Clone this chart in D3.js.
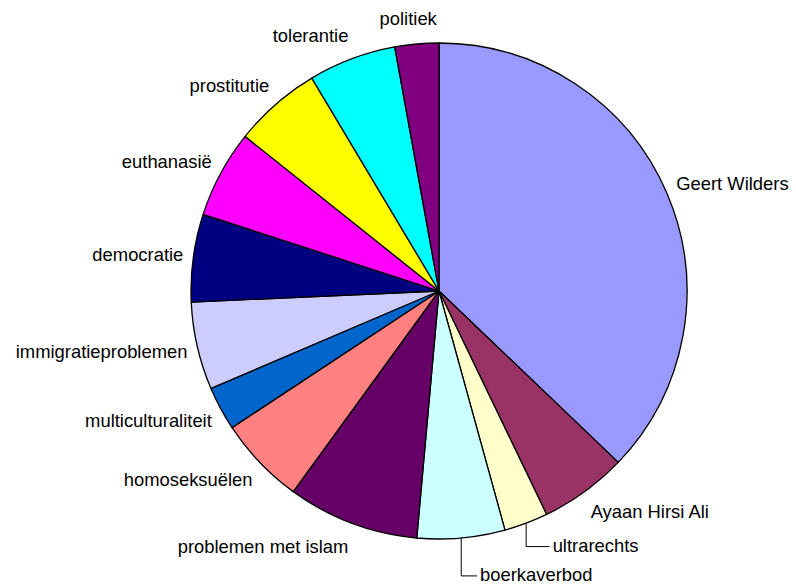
<!DOCTYPE html>
<html>
<head>
<meta charset="utf-8">
<script src="https://cdn.jsdelivr.net/npm/d3@7"></script>
<style>
  html, body { margin: 0; padding: 0; background: #fff; }
  svg { display: block; }
  text { font-family: "Liberation Sans", Arial, sans-serif; font-size: 18.4px; fill: #000; }
</style>
</head>
<body>
<svg id="chart" width="796" height="584"></svg>
<script>
const categories = ["Geert Wilders", "Ayaan Hirsi Ali", "ultrarechts", "boerkaverbod",
  "problemen met islam", "homoseksuëlen", "multiculturaliteit", "immigratieproblemen",
  "democratie", "euthanasië", "prostitutie", "tolerantie", "politiek"];
const values = [13, 2, 1, 2, 3, 2, 1, 2, 2, 2, 2, 2, 1];
const colors = ["#9999FF", "#993366", "#FFFFCC", "#CCFFFF", "#660066", "#FF8080",
  "#0066CC", "#CCCCFF", "#000080", "#FF00FF", "#FFFF00", "#00FFFF", "#800080"];
// labels dragged away from their default spot (drawn with leader lines)
const movedLabels = { "ultrarechts": [23, -1], "boerkaverbod": [59, 12] };

const svg = d3.select("#chart");
const cx = 439, cy = 291, r = 248;
const g = svg.append("g").attr("transform", `translate(${cx},${cy})`);

const data = categories.map((c, i) => ({ name: c, value: values[i], color: colors[i] }));
const pie = d3.pie().value(d => d.value).sort(null);
const arcs = pie(data);
const arc = d3.arc().innerRadius(0).outerRadius(r);

g.selectAll("path.slice").data(arcs).join("path")
  .attr("class", "slice")
  .attr("d", arc)
  .attr("fill", d => d.data.color)
  .attr("stroke", "#000")
  .attr("stroke-width", 1.3)
  .attr("stroke-linejoin", "round");

const R = 258;
arcs.forEach(d => {
  const a = (d.startAngle + d.endAngle) / 2;
  const s = Math.sin(a), c = Math.cos(a);
  const px = R * s, py = -R * c;
  const t = g.append("text").text(d.data.name);
  const w = t.node().getComputedTextLength();
  const k = Math.max(-1, Math.min(1, s * 3));
  let left = px - w * (1 - k) / 2;
  let yc = py - c * 15;
  const mv = movedLabels[d.data.name];
  if (mv) {
    left += mv[0];
    yc += mv[1];
    const ex = r * s, ey = -r * c;
    g.append("path")
      .attr("d", `M${ex},${ey}V${yc + 1}H${left - 3}`)
      .attr("fill", "none")
      .attr("stroke", "#000")
      .attr("stroke-width", 1);
  }
  t.attr("x", left).attr("y", yc + 6.3);
});
</script>
</body>
</html>
